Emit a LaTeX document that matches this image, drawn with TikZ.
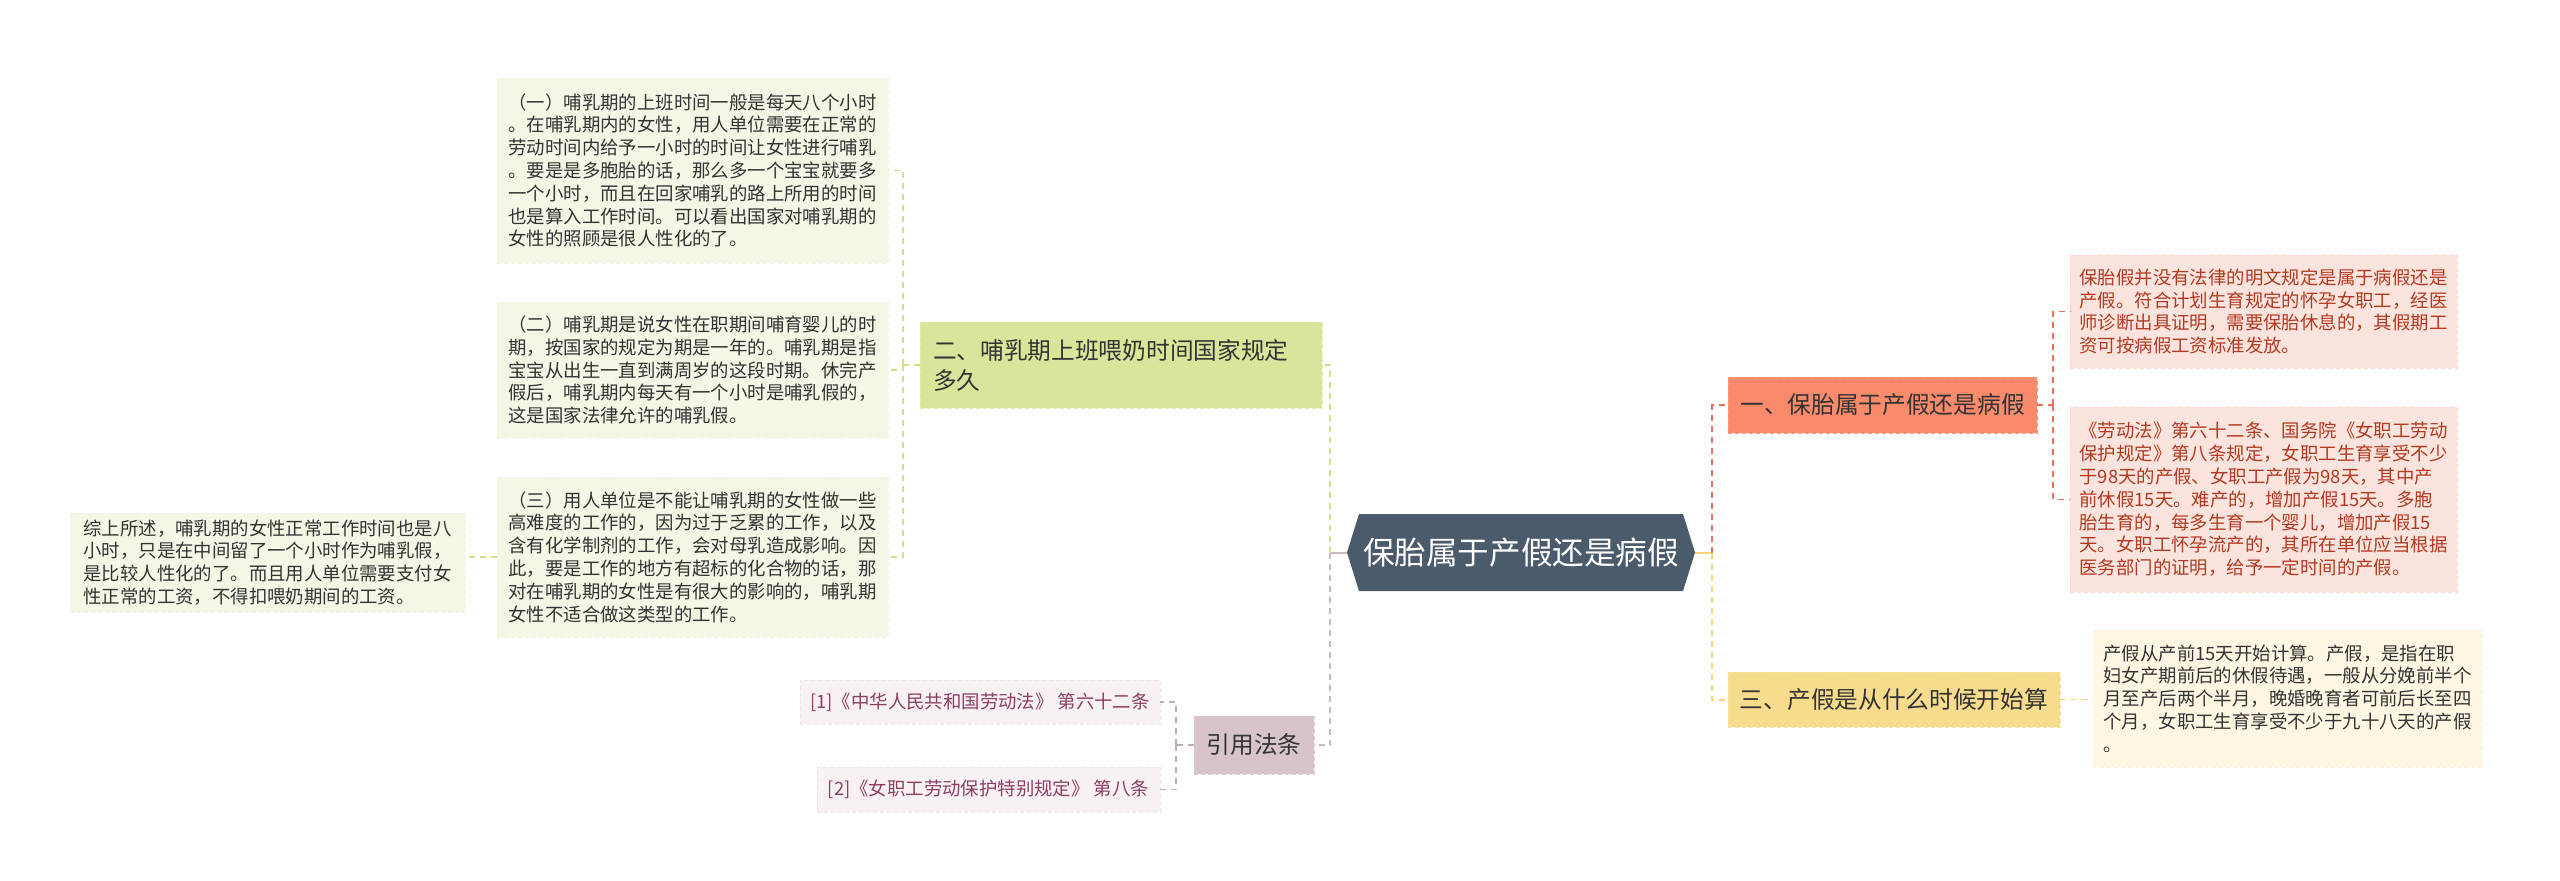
\documentclass[tikz,border=0pt]{standalone}
\usepackage{fontspec}
\setmainfont{Noto Sans CJK SC}
\usetikzlibrary{backgrounds,calc}
\definecolor{cenfill}{HTML}{4B5B6B}
\definecolor{onefill}{HTML}{F98B6C}
\definecolor{twofill}{HTML}{D8E69B}
\definecolor{threefill}{HTML}{F8DC8E}
\definecolor{reffill}{HTML}{D6C3CC}
\definecolor{lbfill}{HTML}{F4F7E5}
\definecolor{rbfill}{HTML}{FCE4DE}
\definecolor{ybfill}{HTML}{FDF7E4}
\definecolor{pbfill}{HTML}{F7F1F4}
\definecolor{txtdark}{HTML}{333333}
\definecolor{txtred}{HTML}{B23A22}
\definecolor{txtmauve}{HTML}{8C3F62}
\definecolor{cgreen}{HTML}{D3E08A}
\definecolor{cred}{HTML}{E9705A}
\definecolor{cyellow}{HTML}{F3D57C}
\definecolor{cmauve}{HTML}{CDB8C2}
\begin{document}
\begin{tikzpicture}[x=1pt,y=-1pt,
  every node/.style={inner sep=0pt, outer sep=0pt},
  small/.style={font=\fontsize{18.4}{22.8}\selectfont},
  big/.style={font=\fontsize{23.7}{30}\selectfont},
  tbox/.style={small, rectangle, align=left, draw, dashed, dash pattern=on 4pt off 3pt, line width=0.6pt},
  lbox/.style={tbox, fill=lbfill, draw=lbfill!85!black!8!lbfill, text=txtdark},
  rbox/.style={tbox, fill=rbfill, draw=rbfill!92!red, text=txtred},
  ybox/.style={tbox, fill=ybfill, draw=ybfill!95!orange, text=txtdark},
  pbox/.style={tbox, fill=pbfill, draw=pbfill!95!black, text=txtmauve},
  topic/.style={big, rectangle, align=left, draw, dashed, dash pattern=on 4pt off 3pt, line width=0.8pt, text=txtdark},
  conn/.style={line width=2pt, dash pattern=on 6pt off 5pt},
  sub/.style={line width=1.5pt, dash pattern=on 6pt off 5pt}
]
\useasboundingbox (0,0) rectangle (2560,881);

% central
\node[font=\fontsize{31.6}{36}\selectfont, text=white, minimum width=348pt, minimum height=77pt] (c) at (1521,552.5) {保胎属于产假还是病假};
\begin{scope}[on background layer]
\fill[white] (0,0) rectangle (2560,881);
\fill[cenfill] ($(c.north west)+(12,0)$) -- ($(c.north east)+(-12,0)$) -- (c.east) -- ($(c.south east)+(-12,0)$) -- ($(c.south west)+(12,0)$) -- (c.west) -- cycle;
\end{scope}

% main topics
\node[topic, fill=onefill, draw=onefill!90!white, minimum width=309pt, minimum height=56pt] (n1) at (1882.5,405) {一、保胎属于产假还是病假};
\node[topic, fill=twofill, draw=twofill!80!white, minimum width=402pt, minimum height=86pt, text width=376pt] (n2) at (1121,365) {二、哺乳期上班喂奶时间国家规定\\多久};
\node[topic, fill=threefill, draw=threefill!85!white, minimum width=332pt, minimum height=55pt] (n3) at (1894,699.5) {三、产假是从什么时候开始算};
\node[topic, fill=reffill, draw=reffill!85!white, minimum width=120pt, minimum height=58pt] (n4) at (1254,745) {引用法条};

% left boxes
\node[lbox, minimum width=391pt, minimum height=185pt] (L1) at (692.5,170.5) {（一）哺乳期的上班时间一般是每天八个小时\\。在哺乳期内的女性，用人单位需要在正常的\\劳动时间内给予一小时的时间让女性进行哺乳\\。要是是多胞胎的话，那么多一个宝宝就要多\\一个小时，而且在回家哺乳的路上所用的时间\\也是算入工作时间。可以看出国家对哺乳期的\\女性的照顾是很人性化的了。};
\node[lbox, minimum width=391pt, minimum height=136pt] (L2) at (692.5,370) {（二）哺乳期是说女性在职期间哺育婴儿的时\\期，按国家的规定为期是一年的。哺乳期是指\\宝宝从出生一直到满周岁的这段时期。休完产\\假后，哺乳期内每天有一个小时是哺乳假的，\\这是国家法律允许的哺乳假。};
\node[lbox, minimum width=391pt, minimum height=160pt] (L3) at (692.5,557) {（三）用人单位是不能让哺乳期的女性做一些\\高难度的工作的，因为过于乏累的工作，以及\\含有化学制剂的工作，会对母乳造成影响。因\\此，要是工作的地方有超标的化合物的话，那\\对在哺乳期的女性是有很大的影响的，哺乳期\\女性不适合做这类型的工作。};
\node[lbox, minimum width=395pt, minimum height=99pt] (L0) at (267.5,562.5) {综上所述，哺乳期的女性正常工作时间也是八\\小时，只是在中间留了一个小时作为哺乳假，\\是比较人性化的了。而且用人单位需要支付女\\性正常的工资，不得扣喂奶期间的工资。};

% right boxes
\node[rbox, minimum width=387pt, minimum height=113pt] (R1) at (2263.5,311.5) {保胎假并没有法律的明文规定是属于病假还是\\产假。符合计划生育规定的怀孕女职工，经医\\师诊断出具证明，需要保胎休息的，其假期工\\资可按病假工资标准发放。};
\node[rbox, minimum width=387pt, minimum height=185pt] (R2) at (2263.5,499.5) {《劳动法》第六十二条、国务院《女职工劳动\\保护规定》第八条规定，女职工生育享受不少\\于98天的产假、女职工产假为98天，其中产\\前休假15天。难产的，增加产假15天。多胞\\胎生育的，每多生育一个婴儿，增加产假15\\天。女职工怀孕流产的，其所在单位应当根据\\医务部门的证明，给予一定时间的产假。};
\node[ybox, minimum width=389pt, minimum height=137pt] (R3) at (2287.5,698.5) {产假从产前15天开始计算。产假，是指在职\\妇女产期前后的休假待遇，一般从分娩前半个\\月至产后两个半月，晚婚晚育者可前后长至四\\个月，女职工生育享受不少于九十八天的产假\\。};

% references
\node[pbox, minimum width=360pt, minimum height=44pt] (F1) at (980,702) {[1]《中华人民共和国劳动法》 第六十二条};
\node[pbox, minimum width=343pt, minimum height=45pt] (F2) at (988.5,789.5) {[2]《女职工劳动保护特别规定》 第八条};

% fork coordinates
\coordinate (fL) at (1330,0);
\coordinate (fR) at (1712,0);
\coordinate (f2) at (903,0);
\coordinate (f1) at (2053,0);
\coordinate (fref) at (1176,0);

% main connectors
\draw[cmauve, line width=2pt] (c.west) -- (c.west -| fL);
\draw[cmauve, conn] (c.west -| fL) -- (n4.east -| fL) -- (n4.east);
\draw[cgreen, conn] (c.west -| fL) -- (n2.east -| fL) -- (n2.east);
\draw[cyellow, line width=2pt] (c.east) -- (c.east -| fR);
\draw[cyellow, conn] (c.east -| fR) -- (n3.west -| fR) -- (n3.west);
\draw[cred, conn] (c.east -| fR) -- (n1.west -| fR) -- (n1.west);

% sub connectors
\draw[cgreen, sub] (n2.west) -- (n2.west -| f2);
\draw[cgreen, sub] (n2.west -| f2) |- (L1.east);
\draw[cgreen, sub] (n2.west -| f2) |- (L2.east);
\draw[cgreen, sub] (n2.west -| f2) |- (L3.east);
\draw[cgreen, sub] (L3.west) -- (L3.west -| L0.east);
\draw[cred, sub] (n1.east) -- (n1.east -| f1);
\draw[cred, sub] (n1.east -| f1) |- (R1.west);
\draw[cred, sub] (n1.east -| f1) |- (R2.west);
\draw[cyellow, sub] (n3.east) -- (n3.east -| R3.west);
\draw[cmauve!80!gray, sub] (n4.west) -- (n4.west -| fref);
\draw[cmauve!80!gray, sub] (n4.west -| fref) |- (F1.east);
\draw[cmauve!80!gray, sub] (n4.west -| fref) |- (F2.east);
\end{tikzpicture}
\end{document}
